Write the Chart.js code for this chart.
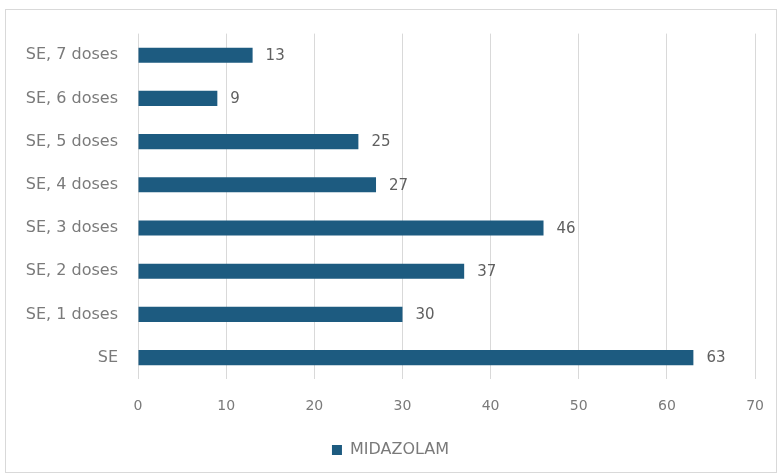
<!DOCTYPE html>
<html>
<head>
<meta charset="utf-8">
<script src="https://cdn.jsdelivr.net/npm/chart.js@4/dist/chart.umd.min.js"></script>
<style>
  html, body { margin: 0; padding: 0; background: #fff; overflow: hidden; }
  #marco {
    position: absolute; left: 5px; top: 9px;
    width: 772px; height: 464px;
    border: 1px solid #d9d9d9; box-sizing: border-box;
  }
  #caja {
    position: absolute; left: 6px; top: 4px;
    width: 777px; height: 466px;
  }
</style>
</head>
<body>
<div id="marco"></div>
<div id="caja"><canvas id="grafico"></canvas></div>
<script>
const categorias = ['SE, 7 doses', 'SE, 6 doses', 'SE, 5 doses', 'SE, 4 doses', 'SE, 3 doses', 'SE, 2 doses', 'SE, 1 doses', 'SE'];
const valoresMidazolam = [13, 9, 25, 27, 46, 37, 30, 63];
const nombreSerie = 'MIDAZOLAM';

const colorBarra = '#1d5b80';
const colorTexto = '#7a7a7a';
const fuente = '"DejaVu Sans", sans-serif';

// etiquetas de valor al final de cada barra
const etiquetasValor = {
  id: 'etiquetasValor',
  afterDatasetsDraw(chart) {
    const ctx = chart.ctx;
    const meta = chart.getDatasetMeta(0);
    ctx.save();
    ctx.font = '15px ' + fuente;
    ctx.fillStyle = '#606060';
    ctx.textBaseline = 'middle';
    ctx.textAlign = 'left';
    meta.data.forEach((barra, i) => {
      ctx.fillText(String(valoresMidazolam[i]), barra.x + 13, barra.y + 1);
    });
    ctx.restore();
  }
};

const ctx = document.getElementById('grafico').getContext('2d');
const grafico = new Chart(ctx, {
  type: 'bar',
  data: {
    labels: categorias,
    datasets: [{
      label: nombreSerie,
      data: valoresMidazolam,
      backgroundColor: colorBarra,
      borderWidth: 0,
      barPercentage: 0.7,
      categoryPercentage: 0.5
    }]
  },
  options: {
    indexAxis: 'y',
    responsive: true,
    maintainAspectRatio: false,
    animation: false,
    layout: { padding: { top: 16, right: 8, bottom: 2, left: 0 } },
    plugins: {
      legend: {
        position: 'bottom',
        labels: {
          color: colorTexto,
          font: { family: fuente, size: 16 },
          boxWidth: 10,
          boxHeight: 10,
          padding: 8
        }
      },
      tooltip: { enabled: false }
    },
    scales: {
      x: {
        min: 0,
        max: 70,
        ticks: {
          stepSize: 10,
          color: colorTexto,
          padding: 19,
          font: { family: fuente, size: 14 }
        },
        grid: { color: '#d9d9d9', drawTicks: false },
        border: { display: false }
      },
      y: {
        afterFit(scale) { scale.width = 132; },
        ticks: {
          color: colorTexto,
          padding: 20,
          font: { family: fuente, size: 16 }
        },
        grid: { display: false, drawTicks: false },
        border: { display: false }
      }
    }
  },
  plugins: [etiquetasValor]
});
</script>
</body>
</html>
